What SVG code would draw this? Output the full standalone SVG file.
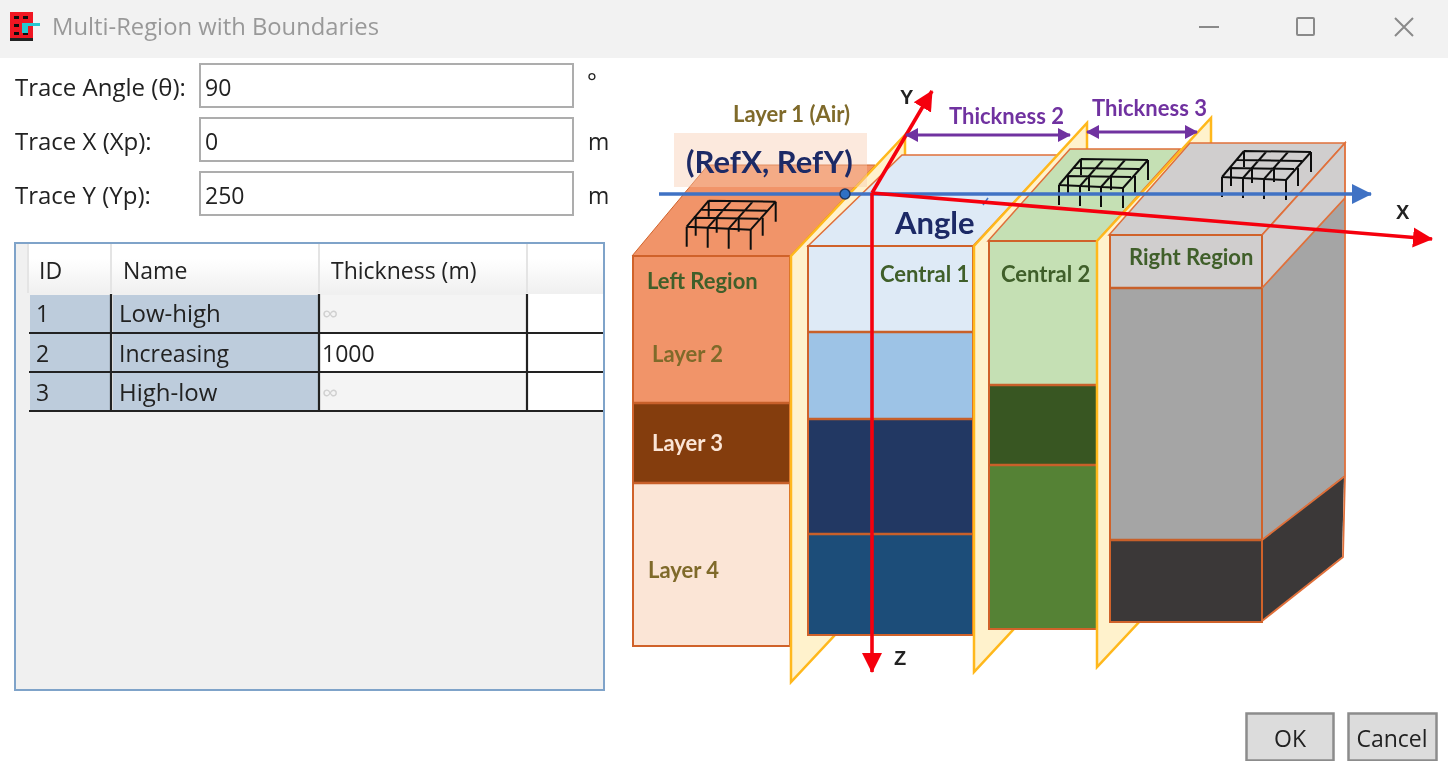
<svg xmlns="http://www.w3.org/2000/svg" xmlns:xlink="http://www.w3.org/1999/xlink" width="1448" height="771" viewBox="0 0 1448 771">
<style>
.ui{font-family:"Open Sans","Noto Sans",sans-serif;font-size:23px;fill:#222}
.big{font-size:24px}
.lbl{font-family:Lato,"Open Sans",sans-serif;font-weight:700;font-size:22px}
.grn{fill:#3f5f2a}.brn{fill:#7f6a2a}.pur{fill:#7030a0}
.blk{font-family:"Liberation Sans",sans-serif;font-weight:700;font-size:20px;fill:#222}
.navy{font-family:Lato,"Open Sans",sans-serif;font-weight:700;font-size:31px;fill:#1f2a66}
.box{fill:#fff;stroke:#adadad;stroke-width:2}
.ln{stroke:#c8602a;stroke-width:2.6}
.plane{fill:#fff2cc;stroke:#ffb81c;stroke-width:2.5;stroke-linejoin:miter}
.grid{stroke:#111;stroke-width:2;fill:none}
.btn{fill:#dcdcdc;stroke:#8c8c8c;stroke-width:2.5}
.sel{fill:#bdccdc}.dis{fill:#f4f4f4}
.tl{stroke:#222;stroke-width:2.2}
.win{stroke:#8a8a8a;stroke-width:2;fill:none}
.pl{stroke:#7030a0;stroke-width:3;fill:none;marker-start:url(#pa);marker-end:url(#pa)}
.red{stroke:#f5000f;stroke-width:3.6;fill:none;marker-end:url(#ra)}
</style>
<defs>
<filter id="soft" x="0" y="0" width="100%" height="100%"><feGaussianBlur stdDeviation="0.55"/></filter>
<linearGradient id="hd" x1="0" y1="0" x2="0" y2="1"><stop offset="0.3" stop-color="#fff"/><stop offset="1" stop-color="#f0f0f0"/></linearGradient>
<marker id="ra" markerUnits="userSpaceOnUse" markerWidth="22" markerHeight="22" refX="19" refY="11" orient="auto"><path d="M0 1L20 11L0 21z" fill="#f5000f"/></marker>
<marker id="ba" markerUnits="userSpaceOnUse" markerWidth="22" markerHeight="22" refX="19" refY="11" orient="auto"><path d="M0 1L20 11L0 21z" fill="#3f72c4"/></marker>
<marker id="pa" markerUnits="userSpaceOnUse" markerWidth="14" markerHeight="14" refX="12" refY="7" orient="auto-start-reverse"><path d="M0 0L13 7L0 14z" fill="#7030a0"/></marker>
<g id="frame" class="grid">
<path d="M0 0L64 3M22-26L89-25M0 0L22-26M64 3L89-25M21 1L44-25M42 2L66-25M7-9L72-8M15-17L80-16"/>
<path d="M0 0V20M21 1V21M42 2V22M64 3V23M9-9V9M30-9V6M52-9V5M76-9V9M89-25V-5M22-26V-10"/>
</g>
</defs>
<rect width="1448" height="771" fill="#fff"/>
<g filter="url(#soft)">
<g id="titlebar">
<rect width="1448" height="58" fill="#f2f2f2"/>
<rect x="10" y="12" width="23" height="29" fill="#f01820"/>
<path d="M10 41H33V38H10z" fill="#222"/>
<path d="M14 16h5v3h-5zM14 24h5v3h-5zM14 32h5v3h-5zM23 16h5v3h-5zM23 32h5v3h-5z" fill="#111"/>
<path d="M22 23h18v3H28v7h-6z" fill="#28c8d0"/>
<text x="52" y="35" class="ui" style="fill:#999;font-size:23.8px">Multi-Region with Boundaries</text>
<path class="win" d="M1199 27H1219"/><rect class="win" x="1297" y="18" width="17" height="17" rx="1"/><path class="win" d="M1395 18L1413 36M1413 18L1395 36"/>
</g>
<g id="inputs">
<text x="15" y="96" class="ui big">Trace Angle (θ):</text><rect class="box" x="200" y="64" width="373" height="43"/><text x="205" y="96" class="ui">90</text><text x="587" y="90" class="ui">°</text>
<text x="15" y="150" class="ui big">Trace X (Xp):</text><rect class="box" x="200" y="118" width="373" height="43"/><text x="205" y="150" class="ui">0</text><text x="588" y="150" class="ui">m</text>
<text x="15" y="204" class="ui big">Trace Y (Yp):</text><rect class="box" x="200" y="172" width="373" height="43"/><text x="205" y="204" class="ui">250</text><text x="588" y="204" class="ui">m</text>
</g>
<g id="table">
<rect x="15" y="243" width="589" height="447" fill="#f0f0f0" stroke="#7fa3c9" stroke-width="2"/>
<rect x="16" y="244" width="587" height="49" fill="url(#hd)"/>
<rect x="16" y="244" width="12" height="167" fill="#f0f0f0"/>
<path d="M28 244V293M111 244V293M319 244V293M527 244V293" stroke="#e4e4e4" stroke-width="2"/>
<rect x="528" y="294" width="75" height="117" fill="#fff"/>
<rect class="sel" x="30" y="295" width="80" height="37"/><rect class="sel" x="113" y="295" width="205" height="37"/><rect class="dis" x="321" y="295" width="205" height="37"/>
<rect class="sel" x="30" y="334" width="80" height="37"/><rect class="sel" x="113" y="334" width="205" height="37"/><rect x="321" y="334" width="205" height="37" fill="#fff"/>
<rect class="sel" x="30" y="373" width="80" height="37"/><rect class="sel" x="113" y="373" width="205" height="37"/><rect class="dis" x="321" y="373" width="205" height="37"/>
<path class="tl" d="M29 333H603M29 372H603M29 411H603M111 294V411M319 294V411M527 294V411"/>
<text x="39" y="279" class="ui">ID</text><text x="123" y="279" class="ui">Name</text><text x="331" y="279" class="ui">Thickness (m)</text>
<text x="36" y="322" class="ui">1</text><text x="119" y="322" class="ui big">Low-high</text><text x="322" y="322" class="ui" style="fill:#d0d0d0">∞</text>
<text x="36" y="362" class="ui">2</text><text x="119" y="362" class="ui">Increasing</text><text x="322" y="362" class="ui">1000</text>
<text x="36" y="401" class="ui">3</text><text x="119" y="401" class="ui big">High-low</text><text x="322" y="401" class="ui" style="fill:#d0d0d0">∞</text>
</g>
<g id="left-region">
<polygon points="632,256 708,165 875,165 790,256" fill="#f19469" stroke="#d0622a" stroke-width="1"/>
<rect x="633" y="256" width="157" height="147" fill="#f19469"/>
<rect x="633" y="403" width="157" height="80" fill="#843c0c"/>
<rect x="633" y="483" width="157" height="163" fill="#fbe5d6"/>
<rect x="633" y="256" width="157" height="390" fill="none" stroke="#d0622a" stroke-width="2"/>
<path class="ln" d="M633 403H790M633 483H790"/>
<use xlink:href="#frame" href="#frame" x="686.7" y="226.7"/>
<text x="647" y="289" class="lbl grn">Left Region</text>
<text x="652" y="362" class="lbl brn">Layer 2</text>
<text x="652" y="451" class="lbl" fill="#fbe5d6">Layer 3</text>
<text x="648" y="578" class="lbl brn">Layer 4</text>
</g>
<g id="plane-1"><polygon class="plane" points="791,256 905,135 905,560 791,682"/></g>
<g id="central-1">
<polygon points="808,246 973,246 1058,155 902,155" fill="#deeaf6" stroke="#e0703a" stroke-width="1.5"/>
<rect x="808" y="246" width="165" height="85" fill="#deeaf6"/>
<rect x="808" y="331" width="165" height="87" fill="#9dc3e6"/>
<rect x="808" y="418" width="165" height="115" fill="#203864"/>
<rect x="808" y="533" width="165" height="102" fill="#1f4e79"/>
<rect x="808" y="246" width="165" height="389" fill="none" stroke="#d0622a" stroke-width="2"/>
<path class="ln" d="M808 332H973M808 419H973M808 534H973"/>
<text x="880" y="282" class="lbl grn">Central 1</text>
</g>
<g id="plane-2"><polygon class="plane" points="974,246 1087,123 1087,550 974,672"/></g>
<g id="central-2">
<polygon points="988,241 1097,241 1180,149 1070,149" fill="#c5e0b4" stroke="#e0703a" stroke-width="1.5"/>
<rect x="989" y="241" width="108" height="144" fill="#c5e0b4"/>
<rect x="989" y="385" width="108" height="80" fill="#385723"/>
<rect x="989" y="465" width="108" height="164" fill="#548235"/>
<rect x="989" y="241" width="108" height="388" fill="none" stroke="#d0622a" stroke-width="2"/>
<path class="ln" d="M989 385H1097M989 465H1097"/>
<use xlink:href="#frame" href="#frame" x="1059" y="185"/>
<text x="1001" y="282" class="lbl grn">Central 2</text>
</g>
<g id="plane-3"><polygon class="plane" points="1097,241 1211,118 1211,545 1097,667"/></g>
<g id="right-region">
<polygon points="1109,235 1262,235 1345,143 1190,143" fill="#d0cece" stroke="#e0703a" stroke-width="1.5"/>
<polygon points="1262,235 1345,143 1345,198 1262,288" fill="#d0cece"/>
<polygon points="1262,288 1345,198 1345,476 1262,540" fill="#a5a5a5"/>
<polygon points="1262,540 1344,476 1342,557 1262,621" fill="#3b3838"/>
<rect x="1110" y="235" width="152" height="53" fill="#d0cece"/>
<rect x="1110" y="288" width="152" height="252" fill="#a5a5a5"/>
<rect x="1110" y="540" width="152" height="82" fill="#3b3838"/>
<rect x="1110" y="235" width="152" height="387" fill="none" stroke="#d0622a" stroke-width="2"/>
<path class="ln" d="M1110 288H1262M1110 540H1262"/>
<path d="M1262 235L1345 143V476L1343 557L1262 621M1262 288L1345 198M1262 540L1345 476" fill="none" stroke="#e0703a" stroke-width="1.8"/>
<use xlink:href="#frame" href="#frame" x="1222" y="177"/>
<text x="1129" y="265" class="lbl grn">Right Region</text>
</g>
<g id="labels">
<rect x="674" y="133" width="193" height="54" fill="#f8cbad" fill-opacity="0.42"/>
<text x="733" y="122" class="lbl brn">Layer 1 (Air)</text>
<text x="686" y="173" class="navy">(RefX, RefY)</text>
<text x="895" y="234" class="navy">Angle</text>
<text x="949" y="124" class="lbl pur">Thickness 2</text>
<text x="1092" y="116" class="lbl pur">Thickness 3</text>
<text x="900" y="104" class="blk">Y</text>
<text x="1396" y="219" class="blk">X</text>
<text x="894" y="665" class="blk">Z</text>
</g>
<g id="connectors">
<path d="M659 194H1371" stroke="#3f72c4" stroke-width="3.4" fill="none" marker-end="url(#ba)"/>
<path d="M983 205L988 198" stroke="#3f72c4" stroke-width="1.5"/>
<path class="red" d="M872 193L932 91"/>
<path class="red" d="M872 193V672"/>
<path class="red" d="M872 193L1432 239"/>
<path class="pl" d="M906 135H1070"/>
<path class="pl" d="M1087 132H1197"/>
<circle cx="845" cy="194" r="5" fill="#2f6fc4" stroke="#1f3864" stroke-width="1.5"/>
</g>
<g id="buttons">
<rect class="btn" x="1246.500" y="713.500" width="87" height="47"/><text x="1290" y="747" class="ui" text-anchor="middle">OK</text>
<rect class="btn" x="1348.500" y="713.500" width="88" height="47"/><text x="1392" y="747" class="ui" text-anchor="middle">Cancel</text>
</g>
</g>
</svg>
